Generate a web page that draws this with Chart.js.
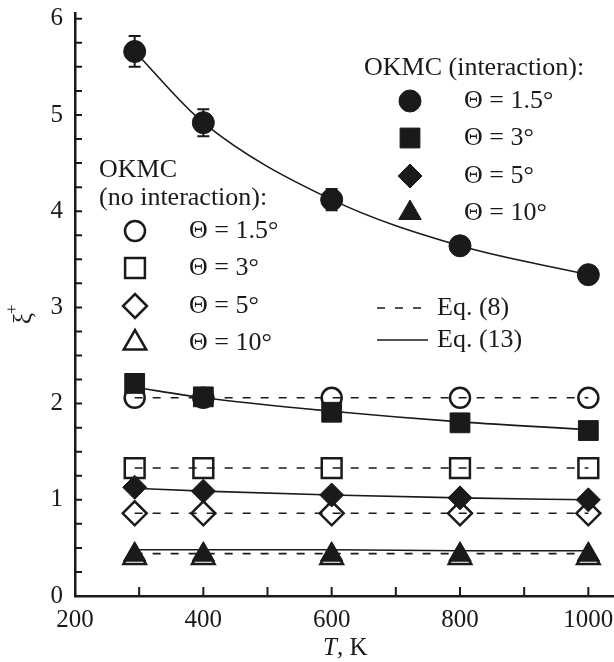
<!DOCTYPE html>
<html>
<head>
<meta charset="utf-8">
<script src="https://cdn.jsdelivr.net/npm/chart.js@4/dist/chart.umd.min.js"></script>
<style>
html, body { margin: 0; padding: 0; background: #fff; }
canvas { display: block; }
</style>
</head>
<body>
<canvas id="myChart" width="614" height="662"></canvas>
<script>
// temperatures, K
var T = [293, 400, 600, 800, 1000];
// OKMC with interaction (filled markers)
var intCircle = [5.66, 4.92, 4.12, 3.64, 3.34];
var intCircleErr = [0.16, 0.14, 0.11, 0.08, 0.06];
var intSquare = [2.21, 2.07, 1.91, 1.80, 1.72];
var intDiamond = [1.13, 1.09, 1.05, 1.02, 1.00];
var intTriangle = [0.43, 0.43, 0.43, 0.43, 0.43];
// OKMC without interaction (open markers)
var noCircle = [2.06, 2.06, 2.06, 2.06, 2.06];
var noSquare = [1.33, 1.33, 1.33, 1.33, 1.33];
var noDiamond = [0.86, 0.86, 0.86, 0.86, 0.86];
var noTriangle = [0.40, 0.40, 0.40, 0.40, 0.40];
// Eq. (8) lines
var eq8Circle = [2.06, 2.06, 2.06, 2.06, 2.06];
var eq8Square = [1.33, 1.33, 1.33, 1.33, 1.33];
var eq8Diamond = [0.86, 0.86, 0.86, 0.86, 0.86];
var eq8Triangle = [0.44, 0.44, 0.44, 0.44, 0.44];
// Eq. (13) curves
var eq13Circle = [5.66, 4.92, 4.12, 3.64, 3.34];
var eq13Square = [2.17, 2.06, 1.92, 1.81, 1.73];
var eq13Diamond = [1.12, 1.09, 1.05, 1.02, 1.00];
var eq13Triangle = [0.48, 0.48, 0.48, 0.47, 0.47];
// axes
var xTicks = [200, 400, 600, 800, 1000];
var xMinor = [300, 500, 700, 900];
var yTicks = [0, 1, 2, 3, 4, 5, 6];
var yMinor = [0.25, 0.5, 0.75, 1.25, 1.5, 1.75, 2.25, 2.5, 2.75, 3.25, 3.5, 3.75, 4.25, 4.5, 4.75, 5.25, 5.5, 5.75];
var thetaLabels = ["\u0398 = 1.5\u00b0", "\u0398 = 3\u00b0", "\u0398 = 5\u00b0", "\u0398 = 10\u00b0"];

var FONT = "Liberation Serif";
var INK = "#1a1a1a";
var DASH = [8, 10];

function pts(ys) {
    return T.map(function (t, i) { return {x: t, y: ys[i]}; });
}

function filledSet(ys, style, r) {
    return {data: pts(ys), showLine: false, pointStyle: style, pointRadius: r,
        pointBackgroundColor: INK, pointBorderColor: INK, pointBorderWidth: 1};
}
function openSet(ys, style, r) {
    return {data: pts(ys), showLine: false, pointStyle: style, pointRadius: r,
        pointBackgroundColor: "#fff", pointBorderColor: INK, pointBorderWidth: 2.5};
}
function curveSet(ys, dashed) {
    return {data: pts(ys), showLine: true, pointRadius: 0, borderColor: INK,
        borderWidth: 1.6, borderDash: dashed ? DASH : [],
        cubicInterpolationMode: dashed ? "default" : "monotone", fill: false};
}

// draw a marker for the legend
function marker(ctx, style, filled, x, y, r) {
    ctx.save();
    ctx.fillStyle = filled ? INK : "#fff";
    ctx.strokeStyle = INK;
    ctx.lineWidth = filled ? 1 : 2.5;
    ctx.beginPath();
    if (style === "circle") {
        ctx.arc(x, y, r, 0, Math.PI * 2);
    } else if (style === "rect") {
        var s = r * Math.SQRT1_2;
        ctx.rect(x - s, y - s, 2 * s, 2 * s);
    } else if (style === "rectRot") {
        ctx.moveTo(x, y - r); ctx.lineTo(x + r, y); ctx.lineTo(x, y + r); ctx.lineTo(x - r, y);
        ctx.closePath();
    } else {
        var a = 0;
        ctx.moveTo(x + Math.sin(a) * r, y - Math.cos(a) * r);
        a += 2 * Math.PI / 3;
        ctx.lineTo(x + Math.sin(a) * r, y - Math.cos(a) * r);
        a += 2 * Math.PI / 3;
        ctx.lineTo(x + Math.sin(a) * r, y - Math.cos(a) * r);
        ctx.closePath();
    }
    ctx.fill();
    ctx.stroke();
    ctx.restore();
}

var styles = ["circle", "rect", "rectRot", "triangle"];
var radii = [11, 14, 12, 13];
var openRadii = [10, 14, 12, 13];

var decor = {
    id: "decor",
    beforeDatasetsDraw: function (chart) {
        var ctx = chart.ctx, xs = chart.scales.x, ys = chart.scales.y;
        var bottom = chart.chartArea.bottom, left = chart.chartArea.left;
        ctx.save();
        ctx.strokeStyle = INK;
        ctx.lineWidth = 2;
        ctx.beginPath();
        xTicks.concat(xMinor).forEach(function (v) {
            var px = xs.getPixelForValue(v);
            if (v === 200) return;
            ctx.moveTo(px, bottom); ctx.lineTo(px, bottom - 9);
        });
        yTicks.concat(yMinor).forEach(function (v) {
            var py = ys.getPixelForValue(v);
            if (v === 0) return;
            ctx.moveTo(left, py); ctx.lineTo(left + 7, py);
        });
        ctx.stroke();
        // tick labels
        ctx.fillStyle = INK;
        ctx.font = "25px '" + FONT + "'";
        ctx.textBaseline = "middle";
        ctx.textAlign = "right";
        yTicks.forEach(function (v) {
            ctx.fillText(String(v), left - 12, ys.getPixelForValue(v));
        });
        ctx.textAlign = "center";
        xTicks.forEach(function (v) {
            ctx.fillText(String(v), xs.getPixelForValue(v), bottom + 24);
        });
        ctx.restore();
    },
    afterDatasetsDraw: function (chart) {
        var ctx = chart.ctx, xs = chart.scales.x, ys = chart.scales.y;
        // error bars on filled circles
        ctx.save();
        ctx.strokeStyle = INK;
        ctx.lineWidth = 2;
        ctx.beginPath();
        T.forEach(function (t, i) {
            var px = xs.getPixelForValue(t);
            var y1 = ys.getPixelForValue(intCircle[i] + intCircleErr[i]);
            var y2 = ys.getPixelForValue(intCircle[i] - intCircleErr[i]);
            ctx.moveTo(px, y1); ctx.lineTo(px, y2);
            ctx.moveTo(px - 6, y1); ctx.lineTo(px + 6, y1);
            ctx.moveTo(px - 6, y2); ctx.lineTo(px + 6, y2);
        });
        ctx.stroke();
        ctx.restore();
    },
    afterDraw: function (chart) {
        var ctx = chart.ctx;
        ctx.save();
        ctx.fillStyle = INK;
        ctx.textBaseline = "middle";
        ctx.textAlign = "left";
        ctx.font = "26px '" + FONT + "'";

        // right legend: with interaction
        ctx.fillText("OKMC (interaction):", 364, 68);
        var rowsR = [101, 138, 176, 213];
        for (var i = 0; i < 4; i++) {
            marker(ctx, styles[i], true, 410, rowsR[i], radii[i]);
            ctx.fillText(thetaLabels[i], 464, rowsR[i]);
        }
        // left legend: no interaction
        ctx.fillText("OKMC", 99, 170);
        ctx.fillText("(no interaction):", 99, 198);
        var rowsL = [231, 268, 306, 343];
        for (i = 0; i < 4; i++) {
            marker(ctx, styles[i], false, 135, rowsL[i], openRadii[i]);
            ctx.fillText(thetaLabels[i], 189, rowsL[i]);
        }
        // equations
        ctx.strokeStyle = INK;
        ctx.lineWidth = 1.6;
        ctx.setLineDash(DASH);
        ctx.beginPath(); ctx.moveTo(377, 308); ctx.lineTo(427, 308); ctx.stroke();
        ctx.setLineDash([]);
        ctx.beginPath(); ctx.moveTo(377, 340); ctx.lineTo(428, 340); ctx.stroke();
        ctx.fillText("Eq. (8)", 437, 308);
        ctx.fillText("Eq. (13)", 437, 340);

        // x title
        ctx.font = "italic 25px '" + FONT + "'";
        var tw = ctx.measureText("T").width;
        ctx.fillText("T", 323, 648);
        ctx.font = "25px '" + FONT + "'";
        ctx.fillText(", K", 323 + tw, 648);

        // y title
        ctx.translate(24, 316);
        ctx.rotate(-Math.PI / 2);
        ctx.font = "25px '" + FONT + "'";
        ctx.fillText("\u03be", -8, 0);
        ctx.font = "17px '" + FONT + "'";
        ctx.fillText("+", 2, -11);
        ctx.restore();
    }
};

var ctx = document.getElementById("myChart").getContext("2d");
var myChart = new Chart(ctx, {
    type: "scatter",
    data: {
        datasets: [
            filledSet(intCircle, "circle", 11),
            filledSet(intSquare, "rect", 14),
            filledSet(intDiamond, "rectRot", 12),
            filledSet(intTriangle, "triangle", 13),
            curveSet(eq13Circle, false),
            curveSet(eq13Square, false),
            curveSet(eq13Diamond, false),
            curveSet(eq13Triangle, false),
            curveSet(eq8Circle, true),
            curveSet(eq8Square, true),
            curveSet(eq8Diamond, true),
            curveSet(eq8Triangle, true),
            openSet(noCircle, "circle", 10),
            openSet(noSquare, "rect", 14),
            openSet(noDiamond, "rectRot", 12),
            openSet(noTriangle, "triangle", 13)
        ]
    },
    options: {
        responsive: false,
        animation: false,
        events: [],
        layout: {autoPadding: false, padding: {top: 13, right: 0, left: 0, bottom: 0}},
        plugins: {legend: {display: false}, tooltip: {enabled: false}},
        scales: {
            x: {
                type: "linear", min: 200, max: 1040,
                afterBuildTicks: function (s) { s.ticks = xTicks.map(function (v) { return {value: v}; }); },
                afterFit: function (s) { s.height = 66; },
                grid: {display: false},
                border: {display: true, color: INK, width: 2.5},
                ticks: {display: false}
            },
            y: {
                type: "linear", min: 0, max: 6.06,
                afterBuildTicks: function (s) { s.ticks = yTicks.map(function (v) { return {value: v}; }); },
                afterFit: function (s) { s.width = 75; },
                grid: {display: false},
                border: {display: true, color: INK, width: 2.5},
                ticks: {display: false}
            }
        }
    },
    plugins: [decor]
});
</script>
</body>
</html>
